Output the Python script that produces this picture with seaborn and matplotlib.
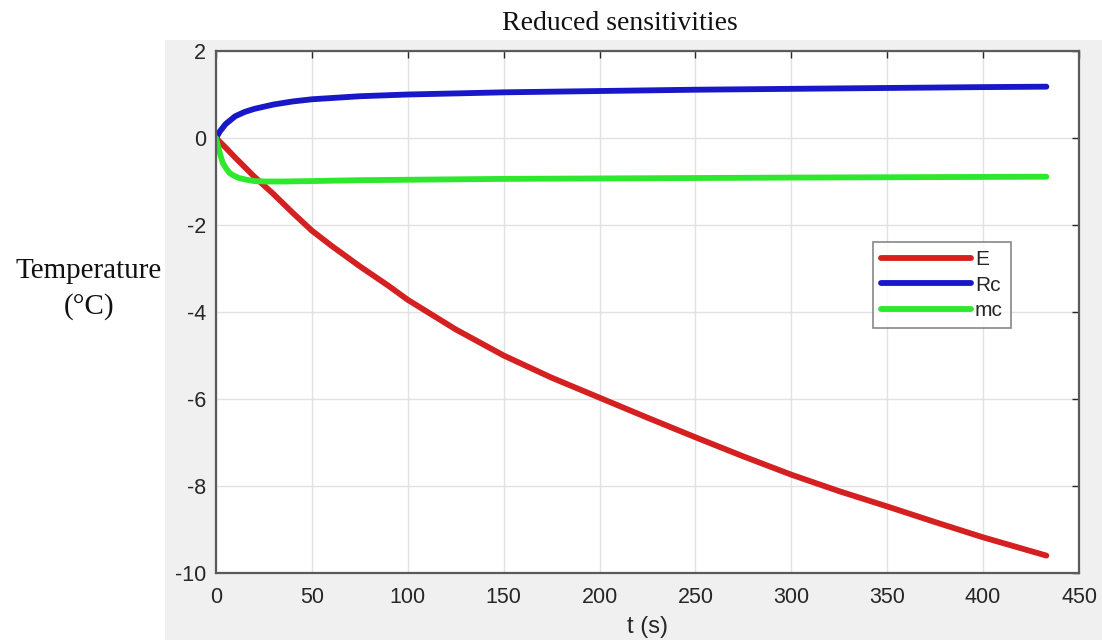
import numpy as np
import pandas as pd
import matplotlib
matplotlib.use("Agg")
import matplotlib.pyplot as plt
from matplotlib.patches import Rectangle
import seaborn as sns

# ---- data ----
t_E = [0, 5, 10, 15, 20, 25, 30, 40, 50, 60, 75, 90, 100, 125, 150, 175, 200,
       225, 250, 275, 300, 325, 350, 375, 400, 433]
E = [0, -0.22, -0.45, -0.67, -0.89, -1.09, -1.29, -1.72, -2.13, -2.47, -2.95,
     -3.40, -3.72, -4.40, -5.0, -5.51, -5.97, -6.43, -6.88, -7.32, -7.74,
     -8.12, -8.47, -8.83, -9.18, -9.6]

t_Rc = [0, 2, 5, 10, 15, 20, 30, 40, 50, 75, 100, 150, 200, 250, 300, 350, 400, 433]
Rc = [0, 0.15, 0.32, 0.5, 0.6, 0.67, 0.77, 0.84, 0.89, 0.96, 1.0, 1.05, 1.08,
      1.11, 1.13, 1.15, 1.17, 1.18]

t_mc = [0, 1, 2, 3.5, 5, 7, 9, 12, 16, 20, 26, 35, 50, 75, 100, 150, 200, 300, 400, 433]
mc = [0, -0.18, -0.35, -0.57, -0.68, -0.8, -0.86, -0.92, -0.96, -0.99, -1.0,
      -1.0, -0.99, -0.97, -0.96, -0.94, -0.93, -0.91, -0.895, -0.89]

series_names = ["E", "Rc", "mc"]
x_ticks = [0, 50, 100, 150, 200, 250, 300, 350, 400, 450]
y_ticks = [-10, -8, -6, -4, -2, 0, 2]

title_text = "Reduced sensitivities"
xlabel_text = "t (s)"
ylabel_text = "Temperature\n(°C)"

df = pd.concat([
    pd.DataFrame({"t": t_E, "v": E, "s": "E"}),
    pd.DataFrame({"t": t_Rc, "v": Rc, "s": "Rc"}),
    pd.DataFrame({"t": t_mc, "v": mc, "s": "mc"}),
], ignore_index=True)

palette = {"E": "#d42020", "Rc": "#1818c8", "mc": "#2ee82e"}

sns.set_style("white")
plt.rcParams["font.family"] = ["Liberation Sans", "DejaVu Sans"]

fig = plt.figure(figsize=(11.02, 6.42), dpi=100)
fig.patch.set_facecolor("white")
bg = Rectangle((165 / 1102, 2 / 642), 1 - 165 / 1102, 600 / 642,
               transform=fig.transFigure, facecolor="#f0f0f0",
               edgecolor="none", zorder=-10)
fig.patches.append(bg)

ax = fig.add_axes([216 / 1102, 1 - 573 / 642, (1079 - 216) / 1102, (573 - 51) / 642])
ax.set_zorder(5)
ax.set_facecolor("white")

sns.lineplot(data=df, x="t", y="v", hue="s", hue_order=series_names,
             palette=palette, linewidth=4.2, sort=False, estimator=None, ax=ax)

ax.set_xlim(0, 450)
ax.set_ylim(-10, 2)
ax.set_xticks(x_ticks)
ax.set_yticks(y_ticks)
ax.set_xticklabels([str(v) for v in x_ticks])
ax.set_yticklabels([str(v) for v in y_ticks])
ax.grid(True, color="#e2e2e2", linewidth=1)
ax.set_axisbelow(True)
ax.tick_params(direction="in", length=5, width=1, colors="#262626",
               labelsize=15.5, top=True, right=True, labelcolor="#262626")
ax.tick_params(axis="x", pad=10)
ax.tick_params(axis="y", pad=7)
for sp in ax.spines.values():
    sp.set_visible(True)
    sp.set_color("#5a5a5a")
    sp.set_linewidth(1.6)

ax.set_xlabel(xlabel_text, fontsize=17, color="#262626", labelpad=6)
ax.set_ylabel("")

fig.text(620 / 1102, 1 - 24 / 642, title_text, ha="center", va="center",
         fontsize=20, family=["Liberation Serif", "DejaVu Serif"], color="#111111")
fig.text(89 / 1102, 1 - 289 / 642, ylabel_text, ha="center", va="center",
         fontsize=21, family=["Liberation Serif", "DejaVu Serif"], color="#111111",
         linespacing=1.45, multialignment="center")

leg = ax.legend(loc="upper left", bbox_to_anchor=(0.761, 0.634), frameon=True,
                fancybox=False, edgecolor="#6a6a6a", fontsize=15, handlelength=4.3,
                handletextpad=0.2, borderpad=0.4, labelspacing=0.3,
                borderaxespad=0, title=None)
leg.get_frame().set_linewidth(1.2)
for line in leg.get_lines():
    line.set_linewidth(4.2)

fig.savefig("out.png", dpi=100)
